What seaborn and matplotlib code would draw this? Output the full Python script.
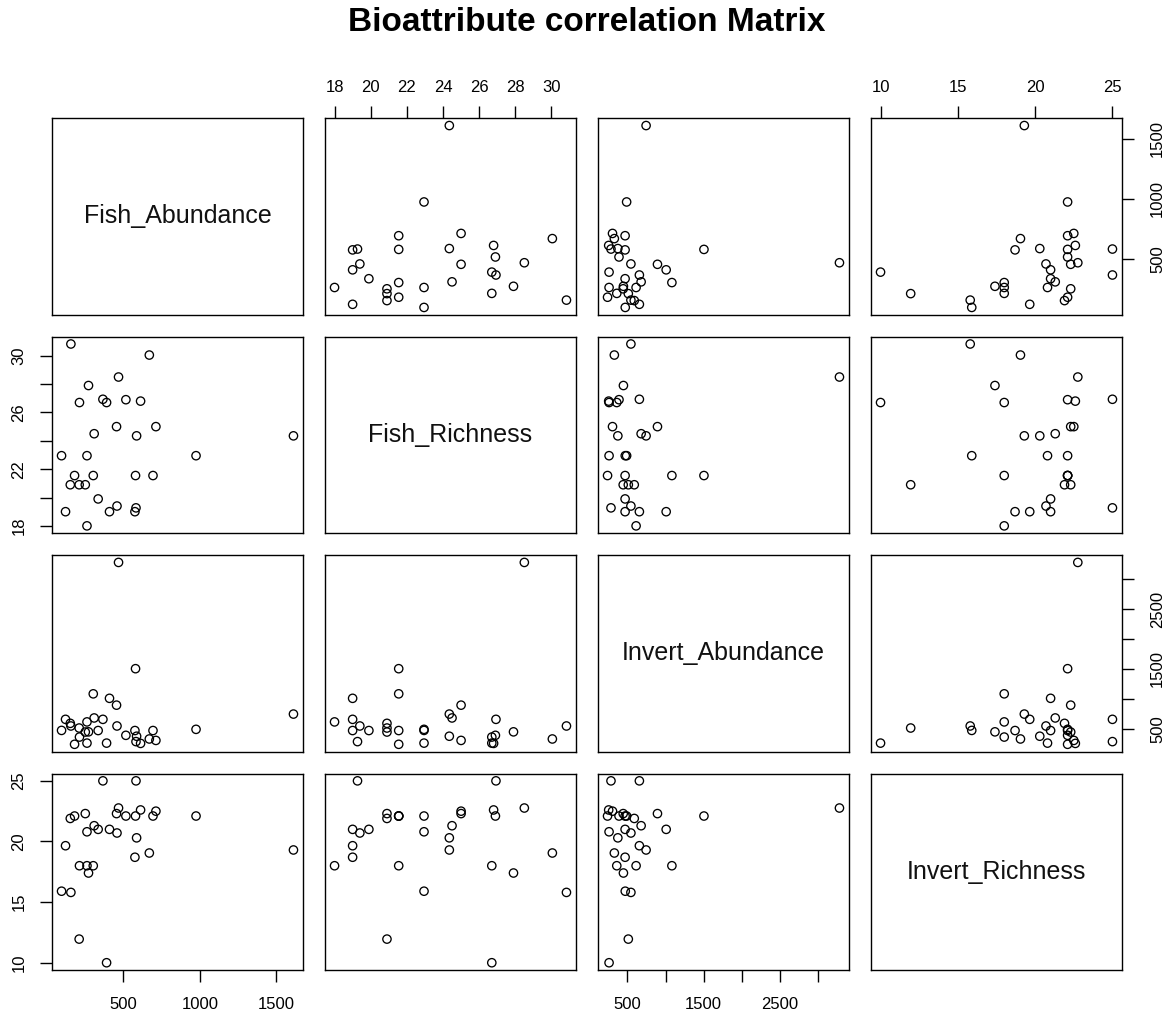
import numpy as np
import pandas as pd
import matplotlib
matplotlib.use("Agg")
import matplotlib.pyplot as plt
import seaborn as sns

# values (one entry per site)
fish_abundance = [1611, 975, 713, 694, 670, 613, 517, 469, 456, 459, 410,
                  336, 583, 587, 576, 580, 367, 391, 97, 123, 158, 154,
                  182, 214, 212, 252, 273, 263, 263, 310, 304]
fish_richness = [24.35, 22.95, 25.0, 21.55, 30.05, 26.8, 26.9, 28.5, 25.0, 19.4, 19.0,
                 19.9, 19.27, 24.35, 19.0, 21.55, 26.93, 26.7, 22.95, 19.0, 30.83, 20.9,
                 21.55, 26.7, 20.9, 20.9, 27.9, 18.0, 22.95, 24.5, 21.55]
invert_abundance = [745, 490, 305, 470, 329, 255, 390, 3278, 894, 546, 1008,
                    470, 285, 375, 470, 1503, 657, 260, 472, 657, 546, 590,
                    240, 361, 512, 445, 448, 614, 260, 680, 1083]
invert_richness = [19.3, 22.1, 22.5, 22.1, 19.05, 22.6, 22.1, 22.76, 22.3, 20.7, 21.0,
                   21.0, 25.0, 20.3, 18.7, 22.1, 25.0, 10.0, 15.9, 19.65, 15.8, 21.9,
                   22.1, 18.0, 11.95, 22.3, 17.4, 18.0, 20.8, 21.3, 18.0]

var_names = ["Fish_Abundance", "Fish_Richness", "Invert_Abundance", "Invert_Richness"]

# tick positions / labels per variable (x = columns, y = rows), R pairs() style
x_ticks = {
    "Fish_Abundance": ([500, 1000, 1500], ["500", "1000", "1500"]),
    "Fish_Richness": ([18, 20, 22, 24, 26, 28, 30], ["18", "20", "22", "24", "26", "28", "30"]),
    "Invert_Abundance": ([500, 1000, 1500, 2000, 2500, 3000], ["500", "", "1500", "", "2500", ""]),
    "Invert_Richness": ([10, 15, 20, 25], ["10", "15", "20", "25"]),
}
y_ticks = {
    "Fish_Abundance": ([500, 1000, 1500], ["500", "1000", "1500"]),
    "Fish_Richness": ([18, 20, 22, 24, 26, 28, 30], ["18", "", "22", "", "26", "", "30"]),
    "Invert_Abundance": ([500, 1000, 1500, 2000, 2500, 3000], ["500", "", "1500", "", "2500", ""]),
    "Invert_Richness": ([10, 15, 20, 25], ["10", "15", "20", "25"]),
}

df = pd.DataFrame({
    "Fish_Abundance": fish_abundance,
    "Fish_Richness": fish_richness,
    "Invert_Abundance": invert_abundance,
    "Invert_Richness": invert_richness,
})

sns.set_style("white")
plt.rcParams["font.family"] = ["Liberation Sans", "DejaVu Sans"]
plt.rcParams["text.color"] = "black"
plt.rcParams["axes.edgecolor"] = "black"
plt.rcParams["axes.linewidth"] = 1.0


def open_circles(x, y, **kws):
    kws.pop("color", None)
    sns.scatterplot(x=x, y=y, ax=plt.gca(), marker="o", s=36,
                    facecolor="none", edgecolor="black", linewidth=0.95)


g = sns.PairGrid(df, vars=var_names, height=10.17 / 4, aspect=11.72 / 10.17,
                 despine=False)
g.map_offdiag(open_circles)

n = len(var_names)
for i in range(n):
    for j in range(n):
        ax = g.axes[i, j]
        ax.set_xlabel("")
        ax.set_ylabel("")
        ax.tick_params(which="both", bottom=False, top=False, left=False, right=False,
                       labelbottom=False, labeltop=False, labelleft=False, labelright=False,
                       length=8.5, width=1.0, labelsize=12, colors="black")
        for s in ax.spines.values():
            s.set_visible(True)
            s.set_color("black")
            s.set_linewidth(1.0)

# R-like limits: 4% padding around the data range
for k, v in enumerate(var_names):
    lo, hi = df[v].min(), df[v].max()
    pad = 0.04 * (hi - lo)
    g.axes[0, k].set_xlim(lo - pad, hi + pad)
    g.axes[k, 0].set_ylim(lo - pad, hi + pad)
    xt, xl = x_ticks[v]
    g.axes[0, k].set_xticks(xt, xl)
    yt, yl = y_ticks[v]
    g.axes[k, 0].set_yticks(yt, yl)

# alternating outer axes like pairs()
for j in range(n):
    if j % 2 == 0:
        g.axes[n - 1, j].tick_params(axis="x", bottom=True, labelbottom=True, pad=11)
    else:
        g.axes[0, j].tick_params(axis="x", top=True, labeltop=True, pad=8)
for i in range(n):
    if i % 2 == 0:
        ax = g.axes[i, n - 1]
        ax.tick_params(axis="y", right=True, labelright=True, labelrotation=90, pad=12)
    else:
        ax = g.axes[i, 0]
        ax.tick_params(axis="y", left=True, labelleft=True, labelrotation=90, pad=10)
    for lab in ax.get_yticklabels(which="both"):
        lab.set_verticalalignment("center")

# variable names on the diagonal
for k, v in enumerate(var_names):
    g.axes[k, k].text(0.5, 0.5, v, transform=g.axes[k, k].transAxes,
                      ha="center", va="center", fontsize=18, color="#111111")

g.figure.suptitle("Bioattribute correlation Matrix", fontsize=24, fontweight="bold",
                  color="black", x=0.501, y=0.978, va="center")
g.figure.subplots_adjust(left=0.0446, right=0.9571, top=0.8837, bottom=0.0462,
                         wspace=0.09, hspace=0.112)
g.figure.set_size_inches(11.72, 10.17)
g.figure.savefig("out.png", dpi=100, facecolor="white")
